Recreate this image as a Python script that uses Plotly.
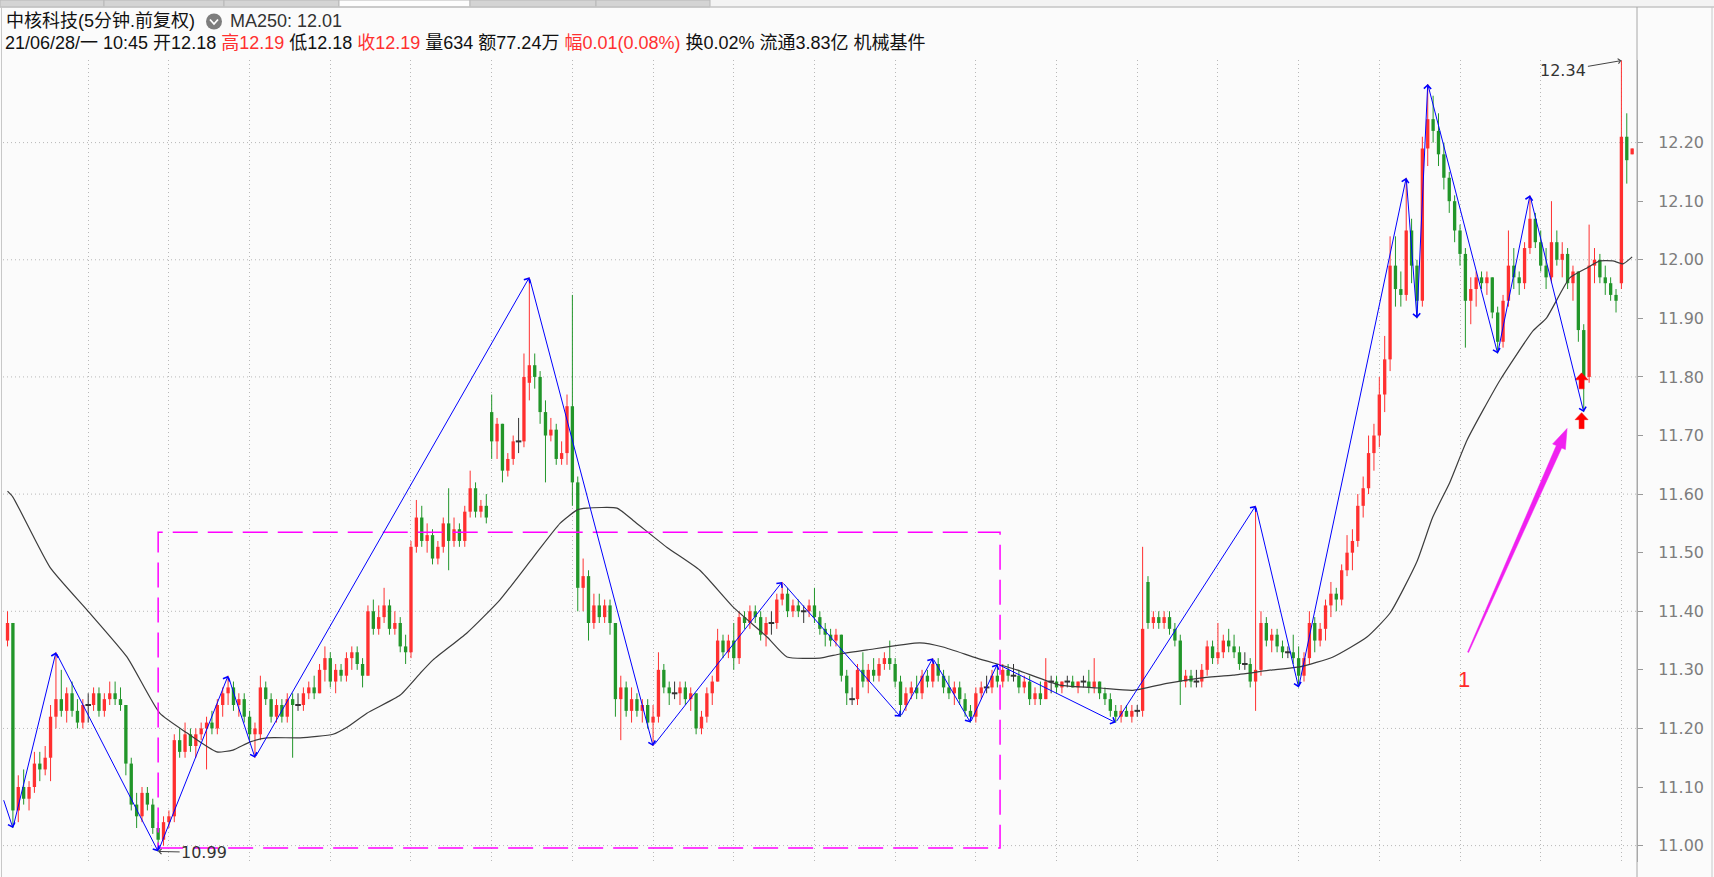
import plotly.graph_objects as go

# 5分钟K线 (前复权)
OPEN = [11.35, 11.38, 11.06, 11.10, 11.08, 11.10, 11.14, 11.13, 11.15, 11.22,
        11.25, 11.23, 11.26, 11.23, 11.21, 11.24, 11.24, 11.26, 11.23, 11.25,
        11.26, 11.25, 11.24, 11.14, 11.07, 11.05, 11.09, 11.07, 11.03, 11.01,
        11.04, 11.05, 11.18, 11.16, 11.19, 11.17, 11.19, 11.20, 11.21, 11.20,
        11.24, 11.26, 11.27, 11.24, 11.25, 11.22, 11.19, 11.19, 11.27, 11.25,
        11.22, 11.24, 11.22, 11.25, 11.24, 11.24, 11.26, 11.27, 11.26, 11.30,
        11.32, 11.28, 11.30, 11.29, 11.32, 11.33, 11.31, 11.29, 11.40, 11.37,
        11.39, 11.41, 11.37, 11.38, 11.34, 11.33, 11.51, 11.56, 11.52, 11.53,
        11.49, 11.51, 11.55, 11.52, 11.54, 11.52, 11.57, 11.61, 11.57, 11.58,
        11.74, 11.69, 11.72, 11.64, 11.66, 11.69, 11.69, 11.79, 11.82, 11.80,
        11.74, 11.70, 11.71, 11.66, 11.67, 11.75, 11.62, 11.44, 11.46, 11.38,
        11.41, 11.39, 11.41, 11.38, 11.25, 11.27, 11.23, 11.25, 11.23, 11.24,
        11.21, 11.22, 11.30, 11.27, 11.26, 11.26, 11.27, 11.25, 11.26, 11.20,
        11.22, 11.26, 11.28, 11.35, 11.33, 11.35, 11.32, 11.39, 11.38, 11.40,
        11.39, 11.36, 11.38, 11.38, 11.42, 11.43, 11.40, 11.41, 11.40, 11.40,
        11.41, 11.39, 11.37, 11.36, 11.35, 11.36, 11.29, 11.25, 11.25, 11.30,
        11.28, 11.30, 11.29, 11.31, 11.32, 11.31, 11.28, 11.24, 11.26, 11.27,
        11.26, 11.29, 11.28, 11.31, 11.29, 11.27, 11.26, 11.27, 11.25, 11.23,
        11.22, 11.26, 11.27, 11.27, 11.29, 11.28, 11.30, 11.29, 11.29, 11.27,
        11.28, 11.25, 11.26, 11.25, 11.28, 11.28, 11.27, 11.28, 11.28, 11.27,
        11.28, 11.28, 11.27, 11.28, 11.26, 11.25, 11.23, 11.22, 11.23, 11.22,
        11.23, 11.23, 11.45, 11.38, 11.39, 11.38, 11.39, 11.37, 11.35, 11.28,
        11.29, 11.28, 11.28, 11.30, 11.34, 11.32, 11.33, 11.35, 11.34, 11.33,
        11.31, 11.31, 11.28, 11.30, 11.38, 11.35, 11.36, 11.34, 11.33, 11.33,
        11.32, 11.29, 11.32, 11.38, 11.35, 11.37, 11.41, 11.43, 11.42, 11.47,
        11.50, 11.52, 11.58, 11.61, 11.67, 11.70, 11.77, 11.83, 11.99, 11.95,
        11.94, 12.05, 11.99, 11.93, 12.19, 12.24, 12.22, 12.18, 12.14, 12.10,
        12.05, 12.01, 11.93, 11.95, 11.97, 11.96, 11.97, 11.91, 11.86, 11.93,
        11.99, 11.97, 11.96, 12.02, 12.07, 12.03, 11.99, 11.97, 12.03, 12.00,
        12.01, 11.96, 11.98, 11.88, 11.80, 11.99, 12.00, 11.97, 11.96, 11.94,
        11.96, 12.21, 12.18]
HIGH = [11.40, 11.38, 11.12, 11.13, 11.11, 11.16, 11.16, 11.17, 11.24, 11.33,
        11.30, 11.27, 11.28, 11.25, 11.25, 11.26, 11.27, 11.27, 11.26, 11.28,
        11.28, 11.27, 11.24, 11.15, 11.09, 11.10, 11.10, 11.08, 11.04, 11.05,
        11.06, 11.19, 11.20, 11.21, 11.20, 11.20, 11.21, 11.22, 11.23, 11.25,
        11.27, 11.29, 11.28, 11.26, 11.26, 11.23, 11.21, 11.29, 11.28, 11.26,
        11.25, 11.25, 11.26, 11.26, 11.26, 11.27, 11.28, 11.29, 11.31, 11.34,
        11.33, 11.31, 11.31, 11.33, 11.34, 11.34, 11.32, 11.41, 11.42, 11.41,
        11.44, 11.42, 11.40, 11.39, 11.36, 11.52, 11.59, 11.58, 11.55, 11.54,
        11.52, 11.56, 11.61, 11.56, 11.55, 11.58, 11.64, 11.62, 11.59, 11.60,
        11.77, 11.73, 11.72, 11.67, 11.70, 11.73, 11.84, 11.97, 11.84, 11.81,
        11.76, 11.73, 11.72, 11.69, 11.77, 11.94, 11.63, 11.49, 11.47, 11.43,
        11.43, 11.42, 11.42, 11.38, 11.29, 11.28, 11.27, 11.26, 11.25, 11.25,
        11.24, 11.33, 11.31, 11.28, 11.28, 11.28, 11.28, 11.27, 11.26, 11.23,
        11.27, 11.29, 11.37, 11.36, 11.36, 11.38, 11.40, 11.40, 11.41, 11.41,
        11.40, 11.39, 11.40, 11.43, 11.45, 11.44, 11.42, 11.42, 11.41, 11.42,
        11.44, 11.40, 11.38, 11.37, 11.37, 11.36, 11.30, 11.27, 11.31, 11.33,
        11.31, 11.32, 11.32, 11.33, 11.35, 11.32, 11.29, 11.27, 11.28, 11.29,
        11.30, 11.30, 11.32, 11.32, 11.30, 11.29, 11.28, 11.28, 11.26, 11.24,
        11.27, 11.28, 11.29, 11.30, 11.31, 11.31, 11.31, 11.31, 11.30, 11.29,
        11.29, 11.27, 11.28, 11.32, 11.29, 11.29, 11.28, 11.29, 11.29, 11.28,
        11.29, 11.30, 11.32, 11.28, 11.27, 11.26, 11.24, 11.24, 11.24, 11.24,
        11.24, 11.51, 11.46, 11.40, 11.40, 11.40, 11.40, 11.38, 11.36, 11.30,
        11.30, 11.30, 11.31, 11.35, 11.35, 11.38, 11.36, 11.37, 11.36, 11.34,
        11.33, 11.32, 11.58, 11.40, 11.39, 11.37, 11.37, 11.35, 11.34, 11.36,
        11.34, 11.33, 11.40, 11.39, 11.38, 11.42, 11.45, 11.44, 11.48, 11.53,
        11.54, 11.60, 11.63, 11.70, 11.72, 11.80, 11.87, 12.04, 12.04, 11.98,
        12.14, 12.07, 12.00, 12.21, 12.30, 12.28, 12.25, 12.20, 12.15, 12.11,
        12.06, 12.02, 11.97, 11.98, 11.98, 11.98, 11.97, 11.92, 11.94, 12.05,
        12.02, 11.98, 12.03, 12.11, 12.08, 12.05, 12.02, 12.10, 12.05, 12.03,
        12.02, 11.99, 11.98, 11.89, 12.06, 12.02, 12.01, 11.99, 11.97, 11.95,
        12.34, 12.25, 12.19]
LOW = [11.34, 11.03, 11.04, 11.07, 11.06, 11.09, 11.11, 11.12, 11.11, 11.20,
       11.22, 11.21, 11.22, 11.20, 11.20, 11.21, 11.23, 11.22, 11.22, 11.24,
       11.24, 11.23, 11.12, 11.06, 11.03, 11.04, 11.06, 11.02, 10.99, 11.00,
       11.03, 11.04, 11.15, 11.15, 11.16, 11.15, 11.18, 11.13, 11.19, 11.19,
       11.22, 11.24, 11.23, 11.22, 11.21, 11.18, 11.15, 11.18, 11.24, 11.21,
       11.21, 11.21, 11.21, 11.15, 11.23, 11.23, 11.25, 11.25, 11.26, 11.28,
       11.27, 11.26, 11.28, 11.28, 11.30, 11.30, 11.27, 11.29, 11.36, 11.36,
       11.38, 11.36, 11.36, 11.33, 11.31, 11.32, 11.50, 11.51, 11.50, 11.48,
       11.48, 11.50, 11.47, 11.51, 11.51, 11.51, 11.56, 11.56, 11.56, 11.55,
       11.66, 11.66, 11.62, 11.63, 11.65, 11.67, 11.68, 11.76, 11.78, 11.72,
       11.62, 11.69, 11.65, 11.65, 11.65, 11.58, 11.40, 11.40, 11.35, 11.37,
       11.38, 11.38, 11.36, 11.22, 11.18, 11.22, 11.21, 11.22, 11.21, 11.20,
       11.17, 11.21, 11.26, 11.24, 11.25, 11.24, 11.24, 11.23, 11.19, 11.19,
       11.21, 11.24, 11.28, 11.32, 11.32, 11.30, 11.31, 11.37, 11.37, 11.38,
       11.35, 11.34, 11.36, 11.37, 11.41, 11.39, 11.39, 11.39, 11.38, 11.39,
       11.38, 11.36, 11.34, 11.34, 11.34, 11.28, 11.24, 11.24, 11.24, 11.27,
       11.26, 11.28, 11.28, 11.30, 11.30, 11.27, 11.22, 11.23, 11.25, 11.25,
       11.25, 11.27, 11.27, 11.28, 11.26, 11.25, 11.24, 11.24, 11.22, 11.21,
       11.21, 11.25, 11.26, 11.26, 11.27, 11.27, 11.28, 11.28, 11.26, 11.26,
       11.24, 11.24, 11.24, 11.25, 11.26, 11.26, 11.26, 11.27, 11.27, 11.26,
       11.27, 11.26, 11.26, 11.25, 11.24, 11.22, 11.21, 11.21, 11.22, 11.21,
       11.22, 11.22, 11.37, 11.37, 11.37, 11.37, 11.36, 11.34, 11.24, 11.27,
       11.27, 11.27, 11.27, 11.29, 11.31, 11.31, 11.32, 11.33, 11.32, 11.30,
       11.30, 11.27, 11.23, 11.29, 11.34, 11.33, 11.33, 11.32, 11.32, 11.31,
       11.27, 11.28, 11.31, 11.33, 11.34, 11.35, 11.39, 11.40, 11.41, 11.46,
       11.47, 11.51, 11.56, 11.60, 11.64, 11.68, 11.74, 11.81, 11.92, 11.92,
       11.93, 11.96, 11.90, 11.92, 12.16, 12.20, 12.16, 12.12, 12.08, 12.03,
       11.99, 11.85, 11.89, 11.92, 11.95, 11.94, 11.90, 11.84, 11.85, 11.92,
       11.95, 11.94, 11.95, 12.01, 12.02, 11.98, 11.95, 11.96, 11.99, 11.97,
       11.95, 11.93, 11.86, 11.74, 11.79, 11.96, 11.96, 11.94, 11.93, 11.91,
       11.95, 12.13, 12.18]
CLOSE = [11.38, 11.06, 11.10, 11.08, 11.10, 11.14, 11.13, 11.15, 11.22, 11.25,
         11.23, 11.26, 11.23, 11.21, 11.24, 11.24, 11.26, 11.23, 11.25, 11.26,
         11.25, 11.24, 11.14, 11.07, 11.05, 11.09, 11.07, 11.03, 11.01, 11.04,
         11.05, 11.18, 11.16, 11.19, 11.17, 11.19, 11.20, 11.21, 11.20, 11.24,
         11.26, 11.27, 11.24, 11.25, 11.22, 11.19, 11.20, 11.27, 11.25, 11.22,
         11.24, 11.22, 11.25, 11.24, 11.24, 11.26, 11.27, 11.26, 11.30, 11.32,
         11.28, 11.30, 11.29, 11.32, 11.33, 11.31, 11.29, 11.40, 11.37, 11.39,
         11.41, 11.37, 11.38, 11.34, 11.33, 11.51, 11.56, 11.52, 11.53, 11.49,
         11.51, 11.55, 11.52, 11.54, 11.52, 11.57, 11.61, 11.57, 11.58, 11.56,
         11.69, 11.72, 11.64, 11.66, 11.69, 11.69, 11.80, 11.82, 11.80, 11.74,
         11.70, 11.71, 11.66, 11.67, 11.75, 11.62, 11.44, 11.46, 11.38, 11.41,
         11.39, 11.41, 11.38, 11.25, 11.27, 11.23, 11.25, 11.23, 11.24, 11.21,
         11.22, 11.30, 11.27, 11.26, 11.26, 11.27, 11.25, 11.26, 11.20, 11.22,
         11.26, 11.28, 11.35, 11.33, 11.35, 11.32, 11.39, 11.38, 11.40, 11.39,
         11.36, 11.38, 11.38, 11.42, 11.43, 11.40, 11.41, 11.40, 11.40, 11.41,
         11.39, 11.37, 11.36, 11.35, 11.36, 11.29, 11.26, 11.25, 11.30, 11.28,
         11.30, 11.29, 11.31, 11.32, 11.31, 11.28, 11.24, 11.26, 11.27, 11.26,
         11.29, 11.28, 11.31, 11.29, 11.27, 11.26, 11.27, 11.25, 11.23, 11.22,
         11.26, 11.27, 11.27, 11.29, 11.28, 11.30, 11.29, 11.29, 11.27, 11.28,
         11.25, 11.26, 11.25, 11.28, 11.28, 11.27, 11.28, 11.28, 11.27, 11.28,
         11.28, 11.27, 11.28, 11.26, 11.25, 11.23, 11.22, 11.23, 11.22, 11.23,
         11.23, 11.37, 11.38, 11.39, 11.38, 11.39, 11.37, 11.35, 11.28, 11.29,
         11.28, 11.28, 11.30, 11.34, 11.32, 11.33, 11.35, 11.34, 11.33, 11.31,
         11.31, 11.28, 11.30, 11.38, 11.35, 11.36, 11.34, 11.33, 11.33, 11.32,
         11.29, 11.32, 11.38, 11.35, 11.37, 11.41, 11.43, 11.42, 11.47, 11.50,
         11.52, 11.58, 11.61, 11.67, 11.70, 11.77, 11.83, 11.99, 11.95, 11.94,
         12.05, 11.99, 11.93, 12.19, 12.24, 12.22, 12.18, 12.14, 12.10, 12.05,
         12.01, 11.93, 11.95, 11.97, 11.96, 11.97, 11.91, 11.86, 11.93, 11.99,
         11.97, 11.96, 12.02, 12.07, 12.03, 11.99, 11.97, 12.03, 12.00, 12.01,
         11.96, 11.98, 11.88, 11.80, 11.99, 12.00, 11.97, 11.96, 11.94, 11.93,
         12.21, 12.17, 12.19]

# MA250 取样点 (K线序号, 价格)
MA_X = [0, 1, 7.9, 14.8, 22.2, 28.3, 33.4, 38.9, 41.9, 45.1,
        48.2, 54.4, 60.5, 63.1, 66.8, 73.0, 76.7, 79.1, 85.4, 91.5,
        97.7, 102.7, 105.9, 107.7, 113.3, 116.3, 122.6, 128.7, 134.9, 141.2,
        144.9, 151.0, 154.7, 159.8, 169.6, 173.9, 180.2, 187.6, 195.6, 203.1,
        209.2, 215.5, 221.7, 227.8, 235.2, 240.2, 246.4, 252.7, 257.0, 262.0,
        264.9, 268.1, 271.3, 277.4, 283.6, 286.1, 290.4, 293.6, 296.0, 298.4,
        300.3, 302.0]
MA_Y = [11.605, 11.595, 11.475, 11.402, 11.322, 11.226, 11.192, 11.160, 11.163, 11.177,
        11.184, 11.184, 11.190, 11.202, 11.226, 11.257, 11.294, 11.317, 11.363, 11.419,
        11.492, 11.550, 11.573, 11.576, 11.576, 11.555, 11.509, 11.470, 11.407, 11.356,
        11.322, 11.320, 11.327, 11.334, 11.346, 11.339, 11.320, 11.300, 11.274, 11.269,
        11.265, 11.277, 11.286, 11.291, 11.300, 11.305, 11.322, 11.356, 11.397, 11.485,
        11.560, 11.620, 11.692, 11.794, 11.879, 11.901, 11.969, 11.986, 11.998, 11.998,
        11.993, 12.005]

# 蓝色波段线端点
ZZ_X = [-0.8, 1, 9, 28, 41, 46, 97, 120, 144, 166, 172,
        179, 184, 206, 232, 240, 260, 262, 264, 277, 283, 293]
ZZ_Y = [11.08, 11.03, 11.33, 10.99, 11.29, 11.15, 11.97, 11.17, 11.45, 11.22, 11.32,
        11.21, 11.31, 11.21, 11.58, 11.27, 12.14, 11.90, 12.30, 11.84, 12.11, 11.74]

PRICE_TICKS = [11.00, 11.10, 11.20, 11.30, 11.40, 11.50, 11.60,
               11.70, 11.80, 11.90, 12.00, 12.10, 12.20]
GRID_PRICES = [11.0, 11.2, 11.4, 11.6, 11.8, 12.0, 12.2]
GRID_BARS = list(range(15, 301, 15))

BOX_X = [28, 184.5]
BOX_Y = [10.996, 11.535]
MAG_TAIL = (271.5, 11.33)
MAG_HEAD = (289.9, 11.712)
SIGNAL_X = [292.6, 292.6]
SIGNAL_Y = [11.807, 11.739]
LABEL_ONE = (270.7, 11.284)

W, H = 1714, 877
ML, MR, MT, MB = 3, 77, 60, 15
X_RANGE = [-0.84, 302.9]
Y_RANGE = [10.972, 12.341]
PW = W - ML - MR
PH = H - MT - MB

RED = "#ff3030"
GREEN = "#22962a"
FLAT = "#333333"


def px_x(px):
    return (px - ML) / PW


def px_y(py):
    return (H - MB - py) / PH


up, down, flat = [], [], []
for i in range(len(CLOSE)):
    if CLOSE[i] > OPEN[i]:
        up.append(i)
    elif CLOSE[i] < OPEN[i]:
        down.append(i)
    else:
        flat.append(i)


def wicks(ids, color):
    xs, ys = [], []
    for i in ids:
        xs += [i, i, None]
        ys += [LOW[i], HIGH[i], None]
    return go.Scatter(x=xs, y=ys, mode="lines", line=dict(color=color, width=1),
                      hoverinfo="skip")


def bodies(ids, color):
    return go.Bar(x=ids, base=[min(OPEN[i], CLOSE[i]) for i in ids],
                  y=[abs(CLOSE[i] - OPEN[i]) for i in ids], width=0.62,
                  marker=dict(color=color, line=dict(width=0)), hoverinfo="skip")


fig = go.Figure()
fig.add_trace(bodies(up, RED))
fig.add_trace(bodies(down, GREEN))
fig.add_trace(wicks(up, RED))
fig.add_trace(wicks(down, GREEN))
fig.add_trace(wicks(flat, FLAT))
fig.add_trace(go.Scatter(x=flat, y=[CLOSE[i] for i in flat], mode="markers",
                         marker=dict(symbol="line-ew", size=4,
                                     line=dict(color=FLAT, width=2)),
                         hoverinfo="skip"))
fig.add_trace(go.Scatter(x=MA_X, y=MA_Y, mode="lines",
                         line=dict(color="#3c3c3c", width=1.2, shape="spline", smoothing=0.5),
                         hoverinfo="skip"))

shapes = []
# 顶部标签栏
shapes.append(dict(type="rect", xref="paper", yref="paper", x0=px_x(0), x1=px_x(W),
                   y0=px_y(7), y1=px_y(0), fillcolor="#f3f3f3", line=dict(width=0)))
for a, b, col in [(0, 104, "#d4d4d4"), (104, 224, "#d4d4d4"), (224, 339, "#d4d4d4"),
                  (339, 470, "#fdfdfd"), (470, 596, "#d4d4d4"), (596, 710, "#d4d4d4")]:
    shapes.append(dict(type="rect", xref="paper", yref="paper", x0=px_x(a), x1=px_x(b),
                       y0=px_y(7), y1=px_y(0), fillcolor=col,
                       line=dict(color="#b8b8b8", width=1)))
shapes.append(dict(type="line", xref="paper", yref="paper", x0=px_x(0), x1=px_x(W),
                   y0=px_y(7), y1=px_y(7), line=dict(color="#c4c4c4", width=1.5)))
# 左右边框
shapes.append(dict(type="line", xref="paper", yref="paper", x0=px_x(1.5), x1=px_x(1.5),
                   y0=px_y(H), y1=px_y(7), line=dict(color="#c8c8c8", width=1)))
shapes.append(dict(type="line", xref="paper", yref="paper", x0=1, x1=1,
                   y0=px_y(H), y1=px_y(7), line=dict(color="#a8a8a8", width=1)))
shapes.append(dict(type="line", xref="paper", yref="paper", x0=px_x(1712), x1=px_x(1712),
                   y0=px_y(H), y1=px_y(7), line=dict(color="#c8c8c8", width=1)))
# 水平网格
for p in GRID_PRICES:
    shapes.append(dict(type="line", xref="paper", yref="y", x0=0, x1=1, y0=p, y1=p,
                       line=dict(color="#b8b8b8", width=1, dash="1px,3px"), layer="below"))
# 虚线框
shapes.append(dict(type="rect", xref="x", yref="y", x0=BOX_X[0], x1=BOX_X[1],
                   y0=BOX_Y[0], y1=BOX_Y[1],
                   line=dict(color="#ff00ff", width=1.5, dash="25px,10px"), layer="above"))

# 品红箭头 (像素尺寸, 以尾部为锚点)
ppx = PW / (X_RANGE[1] - X_RANGE[0])
ppy = PH / (Y_RANGE[1] - Y_RANGE[0])
dx = (MAG_HEAD[0] - MAG_TAIL[0]) * ppx
dy = (MAG_HEAD[1] - MAG_TAIL[1]) * ppy
L = (dx * dx + dy * dy) ** 0.5
ux, uy = dx / L, dy / L
nx, ny = -uy, ux
bx, by = dx - 20 * ux, dy - 20 * uy
pts = [(0.6 * nx, 0.6 * ny), (bx + 3 * nx, by + 3 * ny), (bx + 7 * nx, by + 7 * ny), (dx, dy),
       (bx - 7 * nx, by - 7 * ny), (bx - 3 * nx, by - 3 * ny), (-0.6 * nx, -0.6 * ny)]
mag_path = "M" + " L".join(f"{x:.1f},{y:.1f}" for x, y in pts) + " Z"
shapes.append(dict(type="path", xref="x", yref="y", xsizemode="pixel", ysizemode="pixel",
                   xanchor=MAG_TAIL[0], yanchor=MAG_TAIL[1], path=mag_path,
                   fillcolor="#f020f0", line=dict(color="#f020f0", width=0.5)))

# 红色信号箭头
for sx, sy in zip(SIGNAL_X, SIGNAL_Y):
    shapes.append(dict(type="path", xref="x", yref="y", xsizemode="pixel", ysizemode="pixel",
                       xanchor=sx, yanchor=sy,
                       path="M0,0 L-6.5,-7 L-2.5,-7 L-2.5,-16 L2.5,-16 L2.5,-7 L6.5,-7 Z",
                       fillcolor="#ff0000", line=dict(color="#ff0000", width=0.5)))

# 标题图标
shapes.append(dict(type="circle", xref="paper", yref="paper", x0=px_x(206), x1=px_x(222),
                   y0=px_y(29.5), y1=px_y(13.5), fillcolor="#7d7d7d", line=dict(width=0)))
shapes.append(dict(type="path", xref="paper", yref="paper",
                   path=f"M{px_x(210)},{px_y(19.5)} L{px_x(214)},{px_y(24)} L{px_x(218)},{px_y(19.5)}",
                   line=dict(color="white", width=1.8)))

annotations = []
for k in range(1, len(ZZ_X)):
    annotations.append(dict(x=ZZ_X[k], y=ZZ_Y[k], ax=ZZ_X[k - 1], ay=ZZ_Y[k - 1],
                            xref="x", yref="y", axref="x", ayref="y", text="",
                            showarrow=True, arrowhead=4, arrowsize=1.4, arrowwidth=1,
                            arrowcolor="#0000ff"))

hi = max(range(len(HIGH)), key=lambda i: HIGH[i])
lo = min(range(len(LOW)), key=lambda i: LOW[i])
annotations.append(dict(x=hi, y=HIGH[hi], text=f"{HIGH[hi]:.2f}", ax=-58, ay=10,
                        showarrow=True, arrowhead=4, arrowsize=1, arrowwidth=1,
                        arrowcolor="#444", font=dict(family="DejaVu Sans", size=16, color="#333")))
annotations.append(dict(x=lo, y=LOW[lo], text=f"{LOW[lo]:.2f}", ax=46, ay=1,
                        showarrow=True, arrowhead=4, arrowsize=1, arrowwidth=1,
                        arrowcolor="#444", font=dict(family="DejaVu Sans", size=16, color="#333")))
annotations.append(dict(x=LABEL_ONE[0], y=LABEL_ONE[1], text="1", showarrow=False,
                        font=dict(family="Liberation Sans", size=22, color="#ff2a2a")))

HEAD_FONT = "Liberation Sans, Noto Sans CJK SC"
annotations.append(dict(xref="paper", yref="paper", x=px_x(4), y=px_y(21.5),
                        xanchor="left", yanchor="middle", showarrow=False,
                        text="中核科技(5分钟.前复权)",
                        font=dict(family=HEAD_FONT, size=18, color="#111")))
annotations.append(dict(xref="paper", yref="paper", x=px_x(228), y=px_y(21.5),
                        xanchor="left", yanchor="middle", showarrow=False,
                        text="MA250: 12.01",
                        font=dict(family=HEAD_FONT, size=18, color="#333")))
r = lambda s: f"<span style='color:{RED}'>{s}</span>"
line2 = ("21/06/28/一 10:45 开12.18 " + r("高12.19") + " 低12.18 " + r("收12.19")
         + " 量634 额77.24万 " + r("幅0.01(0.08%)") + " 换0.02% 流通3.83亿 机械基件")
annotations.append(dict(xref="paper", yref="paper", x=px_x(3), y=px_y(43),
                        xanchor="left", yanchor="middle", showarrow=False, text=line2,
                        font=dict(family=HEAD_FONT, size=18, color="#111")))

fig.update_layout(
    width=W, height=H,
    margin=dict(l=ML, r=MR, t=MT, b=MB),
    paper_bgcolor="#fbfbfb", plot_bgcolor="#fbfbfb",
    showlegend=False, barmode="overlay", hovermode=False,
    shapes=shapes, annotations=annotations,
    xaxis=dict(range=X_RANGE, showticklabels=False, ticks="", zeroline=False,
               tickmode="array", tickvals=GRID_BARS, showgrid=True,
               gridcolor="#b8b8b8", gridwidth=1, griddash="1px,3px", showline=False),
    yaxis=dict(range=Y_RANGE, side="right", tickmode="array", tickvals=PRICE_TICKS,
               tickformat=".2f", showgrid=False, zeroline=False,
               ticks="outside", ticklen=5, tickcolor="#999", showline=True,
               linecolor="#a8a8a8", ticklabelstandoff=12,
               tickfont=dict(family="DejaVu Sans", size=16, color="#7d7d7d")),
)

# 页面默认 body 边距会把图推离左上角
fig.write_html("out.html", config={"displayModeBar": False},
               post_script="document.body.style.margin='0';")
